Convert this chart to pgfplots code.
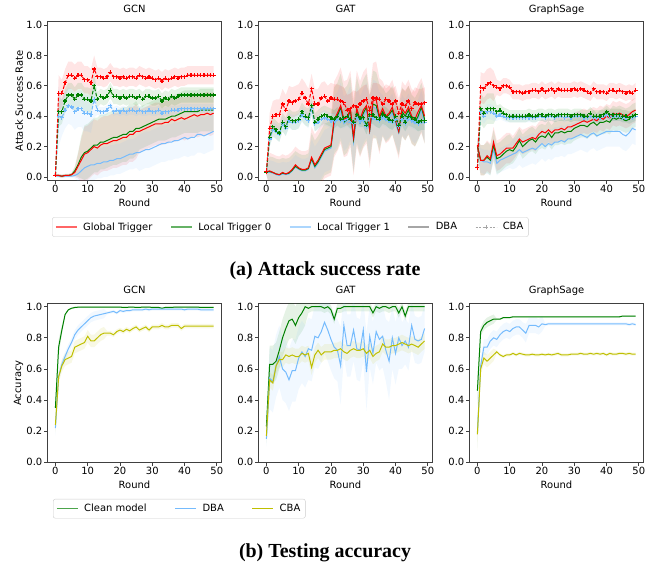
\documentclass[border=0pt]{standalone}
\usepackage{fontspec}
\setmainfont{DejaVu Sans}
\newfontfamily\capfont{Liberation Serif}
\usepackage{pgfplots}
\pgfplotsset{compat=1.18}
\usepackage{pgfplotstable}
\usepgfplotslibrary{fillbetween}

\definecolor{cR}{HTML}{FF0000}
\definecolor{cG}{HTML}{008000}
\definecolor{cB}{HTML}{75BBFD}
\definecolor{cY}{HTML}{BFBF00}
\definecolor{spine}{HTML}{404040}

% attack success rate: d = DBA, c = CBA; g = global, a = local 0, b = local 1; s = std
\pgfplotstableread{
r gd ad bd gc ac bc gds ads bds gcs acs bcs
0 0.01 0.01 0.01 0.01 0.01 0.01 0.01 0.01 0.01 0.01 0.01 0.01
1 0.01 0.01 0.005 0.55 0.43 0.40 0.01 0.01 0.01 0.12 0.10 0.20
2 0.005 0.005 0.005 0.55 0.43 0.39 0.01 0.01 0.01 0.09 0.08 0.12
3 0.01 0.01 0.005 0.62 0.50 0.44 0.01 0.01 0.01 0.09 0.08 0.12
4 0.01 0.01 0.005 0.67 0.54 0.47 0.01 0.01 0.01 0.09 0.08 0.12
5 0.015 0.015 0.005 0.67 0.54 0.46 0.01 0.01 0.01 0.09 0.08 0.12
6 0.03 0.04 0.01 0.65 0.51 0.43 0.03 0.03 0.02 0.09 0.08 0.12
7 0.07 0.08 0.02 0.67 0.54 0.45 0.08 0.08 0.05 0.09 0.08 0.12
8 0.11 0.13 0.04 0.67 0.54 0.45 0.14 0.14 0.08 0.09 0.08 0.12
9 0.15 0.16 0.06 0.64 0.51 0.42 0.18 0.18 0.10 0.09 0.08 0.12
10 0.16 0.17 0.07 0.64 0.51 0.42 0.18 0.18 0.10 0.09 0.08 0.12
11 0.18 0.19 0.08 0.62 0.50 0.41 0.18 0.18 0.10 0.09 0.08 0.12
12 0.20 0.21 0.08 0.71 0.60 0.51 0.18 0.18 0.10 0.09 0.08 0.12
13 0.19 0.21 0.09 0.66 0.51 0.44 0.18 0.18 0.10 0.06 0.05 0.03
14 0.21 0.23 0.09 0.66 0.53 0.43 0.18 0.18 0.10 0.06 0.05 0.03
15 0.22 0.23 0.10 0.65 0.52 0.43 0.18 0.18 0.10 0.06 0.05 0.03
16 0.22 0.24 0.10 0.66 0.53 0.44 0.18 0.18 0.10 0.06 0.05 0.03
17 0.23 0.25 0.11 0.69 0.57 0.47 0.18 0.18 0.10 0.06 0.05 0.03
18 0.24 0.26 0.11 0.66 0.53 0.43 0.18 0.18 0.10 0.06 0.05 0.03
19 0.24 0.26 0.12 0.66 0.53 0.44 0.18 0.18 0.10 0.06 0.05 0.03
20 0.25 0.27 0.12 0.65 0.52 0.43 0.18 0.18 0.10 0.06 0.05 0.03
21 0.26 0.28 0.13 0.66 0.53 0.44 0.18 0.18 0.10 0.06 0.05 0.03
22 0.26 0.28 0.14 0.65 0.52 0.43 0.18 0.18 0.10 0.06 0.05 0.03
23 0.28 0.30 0.15 0.66 0.53 0.44 0.18 0.18 0.10 0.06 0.05 0.03
24 0.28 0.30 0.15 0.66 0.53 0.44 0.18 0.18 0.10 0.06 0.05 0.03
25 0.30 0.32 0.16 0.65 0.52 0.43 0.18 0.18 0.10 0.06 0.05 0.03
26 0.30 0.32 0.16 0.67 0.53 0.44 0.14 0.14 0.12 0.06 0.05 0.03
27 0.31 0.33 0.17 0.66 0.51 0.43 0.14 0.14 0.12 0.06 0.05 0.03
28 0.32 0.34 0.18 0.65 0.53 0.43 0.14 0.14 0.12 0.06 0.05 0.03
29 0.33 0.35 0.18 0.66 0.53 0.44 0.14 0.14 0.12 0.06 0.05 0.03
30 0.34 0.36 0.19 0.65 0.52 0.43 0.14 0.14 0.12 0.06 0.05 0.03
31 0.35 0.37 0.20 0.64 0.52 0.43 0.14 0.14 0.12 0.06 0.05 0.03
32 0.35 0.38 0.21 0.65 0.53 0.44 0.14 0.14 0.12 0.06 0.05 0.03
33 0.35 0.38 0.22 0.63 0.50 0.42 0.14 0.14 0.12 0.06 0.05 0.03
34 0.36 0.38 0.22 0.65 0.52 0.43 0.14 0.14 0.12 0.06 0.05 0.03
35 0.36 0.39 0.23 0.64 0.51 0.43 0.14 0.14 0.12 0.06 0.05 0.03
36 0.38 0.40 0.23 0.65 0.53 0.44 0.14 0.14 0.12 0.06 0.05 0.03
37 0.37 0.40 0.24 0.66 0.52 0.44 0.14 0.14 0.12 0.06 0.05 0.03
38 0.38 0.41 0.24 0.65 0.53 0.44 0.14 0.14 0.12 0.06 0.05 0.03
39 0.39 0.42 0.25 0.66 0.54 0.45 0.14 0.14 0.12 0.06 0.05 0.03
40 0.38 0.43 0.26 0.66 0.54 0.45 0.14 0.14 0.12 0.06 0.05 0.03
41 0.39 0.43 0.25 0.67 0.54 0.45 0.14 0.14 0.12 0.06 0.05 0.03
42 0.40 0.43 0.26 0.67 0.54 0.45 0.14 0.14 0.12 0.06 0.05 0.03
43 0.41 0.43 0.26 0.67 0.54 0.45 0.14 0.14 0.12 0.06 0.05 0.03
44 0.40 0.43 0.28 0.67 0.54 0.45 0.14 0.14 0.12 0.06 0.05 0.03
45 0.41 0.44 0.28 0.67 0.54 0.45 0.14 0.14 0.12 0.06 0.05 0.03
46 0.41 0.44 0.27 0.67 0.54 0.45 0.14 0.14 0.12 0.06 0.05 0.03
47 0.42 0.44 0.28 0.67 0.54 0.45 0.14 0.14 0.12 0.06 0.05 0.03
48 0.41 0.44 0.29 0.67 0.54 0.45 0.14 0.14 0.12 0.06 0.05 0.03
49 0.42 0.44 0.30 0.67 0.54 0.45 0.14 0.14 0.12 0.06 0.05 0.03
}\gcnA

\pgfplotstableread{
r gd ad bd gc ac bc gds ads bds gcs acs bcs
0 0.035 0.035 0.03 0.035 0.03 0.03 0.02 0.02 0.02 0.02 0.02 0.02
1 0.04 0.035 0.03 0.32 0.26 0.25 0.12 0.10 0.08 0.10 0.06 0.05
2 0.03 0.03 0.025 0.40 0.33 0.31 0.12 0.10 0.08 0.10 0.06 0.05
3 0.02 0.02 0.015 0.41 0.31 0.30 0.12 0.10 0.08 0.10 0.06 0.05
4 0.015 0.015 0.01 0.41 0.29 0.28 0.12 0.10 0.08 0.10 0.06 0.05
5 0.03 0.025 0.02 0.48 0.36 0.35 0.12 0.10 0.08 0.10 0.06 0.05
6 0.02 0.02 0.015 0.44 0.33 0.32 0.12 0.10 0.08 0.10 0.06 0.05
7 0.03 0.025 0.02 0.50 0.39 0.37 0.12 0.10 0.08 0.10 0.06 0.05
8 0.05 0.045 0.04 0.49 0.37 0.36 0.12 0.10 0.08 0.10 0.06 0.05
9 0.08 0.07 0.065 0.50 0.37 0.36 0.12 0.10 0.08 0.10 0.06 0.05
10 0.06 0.055 0.05 0.51 0.38 0.37 0.12 0.10 0.08 0.10 0.06 0.05
11 0.05 0.045 0.04 0.55 0.43 0.41 0.12 0.10 0.08 0.10 0.06 0.05
12 0.05 0.045 0.04 0.52 0.40 0.39 0.12 0.10 0.08 0.10 0.06 0.05
13 0.06 0.055 0.05 0.48 0.39 0.37 0.12 0.10 0.08 0.10 0.06 0.05
14 0.13 0.12 0.11 0.58 0.47 0.45 0.20 0.17 0.14 0.10 0.06 0.05
15 0.08 0.07 0.06 0.48 0.36 0.35 0.20 0.17 0.14 0.10 0.06 0.05
16 0.11 0.10 0.09 0.48 0.38 0.36 0.20 0.17 0.14 0.10 0.06 0.05
17 0.15 0.14 0.13 0.52 0.40 0.38 0.20 0.17 0.14 0.10 0.06 0.05
18 0.19 0.18 0.17 0.53 0.41 0.39 0.20 0.17 0.14 0.10 0.06 0.05
19 0.20 0.19 0.18 0.50 0.40 0.38 0.20 0.17 0.14 0.10 0.06 0.05
20 0.21 0.20 0.19 0.52 0.39 0.37 0.20 0.17 0.14 0.10 0.06 0.05
21 0.38 0.37 0.35 0.51 0.38 0.37 0.25 0.22 0.18 0.10 0.06 0.05
22 0.42 0.40 0.38 0.51 0.40 0.38 0.25 0.22 0.18 0.10 0.06 0.05
23 0.47 0.46 0.44 0.50 0.38 0.37 0.25 0.22 0.18 0.10 0.06 0.05
24 0.38 0.36 0.35 0.49 0.39 0.37 0.25 0.22 0.18 0.10 0.06 0.05
25 0.39 0.38 0.37 0.44 0.40 0.38 0.25 0.22 0.18 0.10 0.06 0.05
26 0.45 0.44 0.42 0.45 0.38 0.36 0.25 0.22 0.18 0.10 0.06 0.05
27 0.26 0.25 0.23 0.47 0.36 0.35 0.25 0.22 0.18 0.10 0.06 0.05
28 0.45 0.44 0.42 0.46 0.41 0.39 0.25 0.22 0.18 0.10 0.06 0.05
29 0.38 0.36 0.35 0.48 0.39 0.37 0.25 0.22 0.18 0.10 0.06 0.05
30 0.44 0.42 0.40 0.50 0.39 0.37 0.25 0.22 0.18 0.10 0.06 0.05
31 0.47 0.46 0.44 0.51 0.34 0.33 0.25 0.22 0.18 0.10 0.06 0.05
32 0.31 0.31 0.30 0.44 0.41 0.39 0.25 0.22 0.18 0.10 0.06 0.05
33 0.50 0.48 0.46 0.52 0.41 0.39 0.25 0.22 0.18 0.10 0.06 0.05
34 0.51 0.47 0.45 0.52 0.39 0.38 0.25 0.22 0.18 0.10 0.06 0.05
35 0.40 0.39 0.38 0.51 0.38 0.37 0.25 0.22 0.18 0.10 0.06 0.05
36 0.45 0.43 0.41 0.48 0.41 0.39 0.18 0.16 0.13 0.10 0.06 0.05
37 0.40 0.39 0.37 0.51 0.40 0.38 0.18 0.16 0.13 0.10 0.06 0.05
38 0.42 0.41 0.39 0.50 0.38 0.37 0.18 0.16 0.13 0.10 0.06 0.05
39 0.46 0.44 0.42 0.48 0.37 0.36 0.18 0.16 0.13 0.10 0.06 0.05
40 0.38 0.37 0.35 0.50 0.40 0.38 0.18 0.16 0.13 0.10 0.06 0.05
41 0.30 0.30 0.29 0.42 0.34 0.33 0.18 0.16 0.13 0.10 0.06 0.05
42 0.45 0.43 0.41 0.48 0.40 0.38 0.18 0.16 0.13 0.10 0.06 0.05
43 0.42 0.40 0.38 0.47 0.36 0.35 0.18 0.16 0.13 0.10 0.06 0.05
44 0.46 0.44 0.42 0.50 0.40 0.38 0.18 0.16 0.13 0.10 0.06 0.05
45 0.40 0.38 0.37 0.45 0.39 0.37 0.18 0.16 0.13 0.10 0.06 0.05
46 0.38 0.36 0.35 0.49 0.38 0.36 0.18 0.16 0.13 0.10 0.06 0.05
47 0.43 0.40 0.38 0.48 0.36 0.35 0.18 0.16 0.13 0.10 0.06 0.05
48 0.47 0.46 0.44 0.48 0.37 0.36 0.18 0.16 0.13 0.10 0.06 0.05
49 0.40 0.38 0.36 0.49 0.37 0.36 0.18 0.16 0.13 0.10 0.06 0.05
}\gatA

\pgfplotstableread{
r gd ad bd gc ac bc gds ads bds gcs acs bcs
0 0.21 0.20 0.20 0.06 0.06 0.06 0.05 0.05 0.05 0.02 0.02 0.02
1 0.11 0.11 0.11 0.59 0.45 0.43 0.10 0.10 0.08 0.10 0.10 0.05
2 0.11 0.11 0.10 0.58 0.42 0.40 0.10 0.10 0.08 0.10 0.10 0.05
3 0.14 0.13 0.10 0.61 0.45 0.43 0.10 0.10 0.08 0.10 0.10 0.05
4 0.12 0.11 0.09 0.62 0.45 0.43 0.10 0.10 0.08 0.10 0.10 0.05
5 0.23 0.21 0.18 0.60 0.45 0.42 0.10 0.10 0.08 0.10 0.10 0.05
6 0.14 0.12 0.09 0.59 0.43 0.40 0.10 0.10 0.08 0.05 0.04 0.03
7 0.15 0.13 0.11 0.58 0.44 0.41 0.10 0.10 0.08 0.05 0.04 0.03
8 0.17 0.15 0.12 0.60 0.42 0.40 0.10 0.10 0.08 0.05 0.04 0.03
9 0.19 0.17 0.13 0.60 0.41 0.39 0.10 0.10 0.08 0.05 0.04 0.03
10 0.19 0.18 0.14 0.59 0.40 0.39 0.10 0.10 0.08 0.05 0.04 0.03
11 0.19 0.17 0.15 0.56 0.40 0.39 0.08 0.08 0.10 0.05 0.04 0.03
12 0.22 0.20 0.16 0.56 0.40 0.39 0.08 0.08 0.10 0.05 0.04 0.03
13 0.25 0.24 0.18 0.56 0.40 0.39 0.08 0.08 0.10 0.05 0.04 0.03
14 0.23 0.20 0.16 0.55 0.40 0.39 0.08 0.08 0.10 0.05 0.04 0.03
15 0.24 0.22 0.17 0.56 0.40 0.39 0.08 0.08 0.10 0.05 0.04 0.03
16 0.25 0.24 0.18 0.56 0.41 0.39 0.08 0.08 0.10 0.05 0.04 0.03
17 0.26 0.25 0.19 0.57 0.40 0.39 0.08 0.08 0.10 0.05 0.04 0.03
18 0.25 0.23 0.18 0.57 0.40 0.39 0.08 0.08 0.10 0.05 0.04 0.03
19 0.28 0.26 0.20 0.56 0.41 0.40 0.08 0.08 0.10 0.05 0.04 0.03
20 0.30 0.27 0.22 0.58 0.41 0.40 0.08 0.08 0.10 0.05 0.04 0.03
21 0.29 0.26 0.20 0.56 0.40 0.39 0.08 0.08 0.10 0.05 0.04 0.03
22 0.31 0.29 0.22 0.57 0.41 0.40 0.08 0.08 0.10 0.05 0.04 0.03
23 0.29 0.26 0.21 0.58 0.41 0.40 0.08 0.08 0.10 0.05 0.04 0.03
24 0.31 0.29 0.23 0.56 0.40 0.39 0.08 0.08 0.10 0.05 0.04 0.03
25 0.31 0.29 0.23 0.58 0.41 0.40 0.08 0.08 0.10 0.05 0.04 0.03
26 0.32 0.30 0.24 0.57 0.41 0.40 0.08 0.08 0.10 0.05 0.04 0.03
27 0.31 0.29 0.23 0.57 0.41 0.39 0.08 0.08 0.10 0.05 0.04 0.03
28 0.33 0.30 0.25 0.57 0.41 0.40 0.08 0.08 0.10 0.05 0.04 0.03
29 0.33 0.30 0.25 0.57 0.40 0.39 0.08 0.08 0.10 0.05 0.04 0.03
30 0.34 0.32 0.26 0.58 0.41 0.40 0.08 0.08 0.10 0.05 0.04 0.03
31 0.35 0.33 0.27 0.57 0.41 0.40 0.08 0.08 0.10 0.05 0.04 0.03
32 0.36 0.34 0.28 0.58 0.41 0.40 0.08 0.08 0.10 0.05 0.04 0.03
33 0.37 0.34 0.27 0.57 0.40 0.39 0.08 0.08 0.10 0.05 0.04 0.03
34 0.36 0.33 0.26 0.56 0.40 0.39 0.08 0.08 0.10 0.05 0.04 0.03
35 0.37 0.35 0.28 0.55 0.42 0.40 0.08 0.08 0.10 0.05 0.04 0.03
36 0.38 0.36 0.29 0.58 0.40 0.39 0.08 0.08 0.10 0.05 0.04 0.03
37 0.37 0.34 0.27 0.56 0.40 0.39 0.08 0.08 0.10 0.05 0.04 0.03
38 0.39 0.36 0.28 0.56 0.40 0.39 0.08 0.08 0.10 0.05 0.04 0.03
39 0.38 0.36 0.29 0.56 0.41 0.40 0.08 0.08 0.10 0.05 0.04 0.03
40 0.40 0.37 0.30 0.55 0.43 0.41 0.08 0.08 0.10 0.05 0.04 0.03
41 0.39 0.36 0.30 0.57 0.41 0.40 0.08 0.08 0.10 0.05 0.04 0.03
42 0.42 0.39 0.30 0.57 0.41 0.40 0.08 0.08 0.10 0.05 0.04 0.03
43 0.41 0.38 0.30 0.56 0.41 0.40 0.08 0.08 0.10 0.05 0.04 0.03
44 0.42 0.39 0.30 0.57 0.41 0.40 0.08 0.08 0.10 0.05 0.04 0.03
45 0.41 0.38 0.28 0.56 0.40 0.39 0.08 0.08 0.10 0.05 0.04 0.03
46 0.40 0.37 0.27 0.55 0.40 0.39 0.08 0.08 0.10 0.05 0.04 0.03
47 0.41 0.38 0.29 0.56 0.39 0.39 0.08 0.08 0.10 0.05 0.04 0.03
48 0.43 0.40 0.32 0.55 0.40 0.39 0.08 0.08 0.10 0.05 0.04 0.03
49 0.44 0.41 0.31 0.57 0.41 0.40 0.08 0.08 0.10 0.05 0.04 0.03
}\sageA

% testing accuracy: cl = clean model, db = DBA, cb = CBA; s = std
\pgfplotstableread{
r cl db cb cls dbs cbs
0 0.35 0.22 0.24 0.05 0.05 0.05
1 0.74 0.55 0.55 0.05 0.03 0.04
2 0.85 0.63 0.62 0.03 0.03 0.04
3 0.95 0.68 0.66 0.005 0.03 0.04
4 0.98 0.73 0.67 0.005 0.03 0.04
5 0.99 0.77 0.68 0.005 0.03 0.04
6 0.995 0.82 0.74 0.005 0.03 0.04
7 0.997 0.85 0.75 0.005 0.03 0.04
8 0.998 0.87 0.76 0.005 0.03 0.04
9 0.998 0.89 0.77 0.005 0.03 0.04
10 0.998 0.91 0.81 0.005 0.03 0.04
11 0.998 0.93 0.78 0.005 0.03 0.04
12 0.998 0.94 0.78 0.005 0.03 0.04
13 0.998 0.945 0.80 0.005 0.03 0.04
14 0.998 0.95 0.82 0.005 0.03 0.04
15 0.998 0.955 0.83 0.005 0.03 0.04
16 0.998 0.96 0.83 0.005 0.01 0.015
17 0.998 0.965 0.83 0.005 0.01 0.015
18 0.998 0.97 0.82 0.005 0.01 0.015
19 0.998 0.96 0.84 0.005 0.01 0.015
20 0.998 0.975 0.85 0.005 0.01 0.015
21 0.995 0.97 0.84 0.005 0.01 0.015
22 0.995 0.975 0.855 0.005 0.01 0.015
23 0.998 0.975 0.845 0.005 0.01 0.015
24 0.998 0.98 0.86 0.005 0.01 0.015
25 0.995 0.98 0.87 0.005 0.01 0.015
26 0.995 0.98 0.85 0.005 0.01 0.015
27 0.998 0.98 0.86 0.005 0.01 0.015
28 0.998 0.985 0.87 0.005 0.01 0.015
29 0.998 0.98 0.85 0.005 0.01 0.015
30 0.995 0.985 0.87 0.005 0.01 0.015
31 0.995 0.985 0.87 0.005 0.01 0.015
32 0.995 0.985 0.87 0.005 0.01 0.015
33 0.99 0.985 0.88 0.005 0.01 0.015
34 0.995 0.985 0.87 0.005 0.01 0.015
35 0.995 0.985 0.87 0.005 0.01 0.015
36 0.995 0.985 0.88 0.005 0.01 0.015
37 0.998 0.985 0.88 0.005 0.01 0.015
38 0.998 0.985 0.88 0.005 0.01 0.015
39 0.998 0.985 0.86 0.005 0.01 0.015
40 0.998 0.98 0.875 0.005 0.01 0.015
41 0.998 0.985 0.875 0.005 0.01 0.015
42 0.998 0.985 0.875 0.005 0.01 0.015
43 0.998 0.985 0.875 0.005 0.01 0.015
44 0.998 0.985 0.875 0.005 0.01 0.015
45 0.995 0.98 0.875 0.005 0.01 0.015
46 0.995 0.98 0.875 0.005 0.01 0.015
47 0.995 0.98 0.875 0.005 0.01 0.015
48 0.995 0.98 0.875 0.005 0.01 0.015
49 0.995 0.98 0.875 0.005 0.01 0.015
}\gcnB

\pgfplotstableread{
r cl db cb cls dbs cbs
0 0.23 0.15 0.17 0.05 0.05 0.05
1 0.63 0.54 0.53 0.12 0.20 0.05
2 0.63 0.52 0.51 0.12 0.20 0.05
3 0.65 0.62 0.62 0.12 0.20 0.05
4 0.72 0.68 0.66 0.12 0.20 0.05
5 0.80 0.60 0.66 0.12 0.20 0.05
6 0.86 0.58 0.69 0.12 0.20 0.05
7 0.91 0.53 0.68 0.12 0.20 0.05
8 0.92 0.59 0.69 0.12 0.20 0.05
9 0.88 0.59 0.68 0.12 0.20 0.05
10 0.93 0.67 0.68 0.12 0.20 0.05
11 0.96 0.71 0.70 0.12 0.20 0.05
12 1.0 0.68 0.69 0.12 0.20 0.05
13 0.99 0.73 0.70 0.03 0.20 0.05
14 1.0 0.72 0.61 0.03 0.20 0.05
15 1.0 0.81 0.69 0.03 0.20 0.05
16 1.0 0.80 0.72 0.03 0.20 0.05
17 1.0 0.84 0.69 0.03 0.20 0.05
18 0.99 0.90 0.71 0.03 0.20 0.05
19 1.0 0.85 0.71 0.03 0.20 0.05
20 0.98 0.79 0.71 0.03 0.20 0.05
21 0.92 0.74 0.72 0.03 0.20 0.05
22 0.99 0.72 0.72 0.03 0.20 0.05
23 0.99 0.62 0.73 0.03 0.25 0.05
24 1.0 0.88 0.71 0.03 0.20 0.05
25 1.0 0.75 0.70 0.03 0.20 0.05
26 1.0 0.75 0.72 0.03 0.20 0.05
27 1.0 0.85 0.73 0.03 0.20 0.05
28 1.0 0.73 0.72 0.03 0.20 0.05
29 1.0 0.72 0.72 0.03 0.20 0.05
30 1.0 0.85 0.73 0.03 0.20 0.05
31 1.0 0.58 0.70 0.03 0.25 0.05
32 1.0 0.81 0.72 0.03 0.20 0.05
33 0.96 0.70 0.68 0.03 0.20 0.05
34 1.0 0.84 0.70 0.03 0.20 0.05
35 0.99 0.79 0.71 0.03 0.20 0.05
36 1.0 0.81 0.76 0.03 0.20 0.05
37 1.0 0.72 0.74 0.03 0.20 0.05
38 0.99 0.65 0.74 0.03 0.25 0.05
39 1.0 0.80 0.75 0.03 0.20 0.05
40 1.0 0.70 0.75 0.03 0.20 0.05
41 0.96 0.80 0.76 0.03 0.20 0.05
42 1.0 0.75 0.77 0.03 0.15 0.05
43 0.94 0.78 0.76 0.03 0.15 0.05
44 1.0 0.74 0.75 0.03 0.15 0.05
45 1.0 0.88 0.76 0.03 0.15 0.05
46 1.0 0.79 0.75 0.03 0.15 0.05
47 1.0 0.78 0.74 0.03 0.15 0.05
48 1.0 0.79 0.76 0.03 0.15 0.05
49 1.0 0.86 0.78 0.03 0.15 0.05
}\gatB

\pgfplotstableread{
r cl db cb cls dbs cbs
0 0.46 0.19 0.18 0.10 0.10 0.10
1 0.84 0.62 0.60 0.03 0.05 0.04
2 0.88 0.74 0.67 0.03 0.05 0.04
3 0.90 0.74 0.65 0.03 0.05 0.04
4 0.91 0.78 0.67 0.03 0.05 0.04
5 0.92 0.80 0.69 0.03 0.05 0.04
6 0.92 0.79 0.71 0.005 0.05 0.01
7 0.92 0.82 0.69 0.005 0.05 0.01
8 0.93 0.84 0.68 0.005 0.05 0.01
9 0.93 0.85 0.69 0.005 0.05 0.01
10 0.93 0.84 0.69 0.005 0.05 0.01
11 0.935 0.86 0.70 0.005 0.05 0.01
12 0.935 0.87 0.69 0.005 0.05 0.01
13 0.935 0.87 0.70 0.005 0.05 0.01
14 0.935 0.85 0.695 0.005 0.05 0.01
15 0.935 0.83 0.69 0.005 0.06 0.01
16 0.935 0.88 0.69 0.005 0.05 0.01
17 0.935 0.88 0.695 0.005 0.05 0.01
18 0.935 0.88 0.69 0.005 0.05 0.01
19 0.935 0.87 0.69 0.005 0.05 0.01
20 0.935 0.89 0.695 0.005 0.05 0.01
21 0.935 0.885 0.69 0.005 0.01 0.01
22 0.935 0.89 0.695 0.005 0.01 0.01
23 0.935 0.89 0.69 0.005 0.01 0.01
24 0.935 0.89 0.695 0.005 0.01 0.01
25 0.935 0.89 0.70 0.005 0.01 0.01
26 0.935 0.89 0.69 0.005 0.01 0.01
27 0.935 0.89 0.69 0.005 0.01 0.01
28 0.935 0.89 0.69 0.005 0.01 0.01
29 0.935 0.89 0.695 0.005 0.01 0.01
30 0.935 0.89 0.695 0.005 0.01 0.01
31 0.935 0.89 0.695 0.005 0.01 0.01
32 0.935 0.89 0.70 0.005 0.01 0.01
33 0.935 0.89 0.695 0.005 0.01 0.01
34 0.935 0.89 0.695 0.005 0.01 0.01
35 0.935 0.89 0.70 0.005 0.01 0.01
36 0.935 0.89 0.695 0.005 0.01 0.01
37 0.935 0.89 0.70 0.005 0.01 0.01
38 0.935 0.89 0.695 0.005 0.01 0.01
39 0.935 0.89 0.70 0.005 0.01 0.01
40 0.935 0.89 0.69 0.005 0.01 0.01
41 0.935 0.89 0.70 0.005 0.01 0.01
42 0.935 0.89 0.695 0.005 0.01 0.01
43 0.935 0.89 0.695 0.005 0.01 0.01
44 0.935 0.89 0.70 0.005 0.01 0.01
45 0.94 0.89 0.70 0.005 0.01 0.01
46 0.94 0.89 0.695 0.005 0.01 0.01
47 0.94 0.885 0.70 0.005 0.01 0.01
48 0.94 0.89 0.695 0.005 0.01 0.01
49 0.94 0.885 0.695 0.005 0.01 0.01
}\sageB

\newcommand\band[4]{%
  \addplot[draw=none,forget plot,name path=U#2] table[x=r,y expr=\thisrow{#2}+\thisrow{#3}]{#1};
  \addplot[draw=none,forget plot,name path=L#2] table[x=r,y expr=\thisrow{#2}-\thisrow{#3}]{#1};
  \addplot[fill=#4,fill opacity=0.1,draw=none,forget plot] fill between[of=U#2 and L#2];
}
\newcommand\meanline[3]{\addplot[#3,line width=1bp,forget plot] table[x=r,y=#2]{#1};}
\newcommand\cbaline[3]{\addplot[#3,line width=1bp,dash pattern=on 3.7bp off 1.6bp,mark=+,mark size=2bp,mark options={solid,line width=1.2bp},forget plot] table[x=r,y=#2]{#1};}

\newcommand\asrplots[1]{%
  \band{#1}{gd}{gds}{cR}\band{#1}{ad}{ads}{cG}\band{#1}{bd}{bds}{cB}%
  \band{#1}{gc}{gcs}{cR}\band{#1}{ac}{acs}{cG}\band{#1}{bc}{bcs}{cB}%
  \meanline{#1}{bd}{cB}\meanline{#1}{ad}{cG}\meanline{#1}{gd}{cR}%
  \cbaline{#1}{bc}{cB}\cbaline{#1}{ac}{cG}\cbaline{#1}{gc}{cR}%
}
\newcommand\accplots[1]{%
  \band{#1}{cl}{cls}{cG}\band{#1}{db}{dbs}{cB}\band{#1}{cb}{cbs}{cY}%
  \meanline{#1}{cl}{cG}\meanline{#1}{db}{cB}\meanline{#1}{cb}{cY}%
}

\pgfplotsset{
  legend image code/.code={\draw[mark repeat=2,mark phase=2,#1] plot coordinates {(0bp,0bp) (10.5bp,0bp) (21bp,0bp)};},
  base/.style={
    scale only axis, width=174bp,
    xmin=-2.45, xmax=51.45,
    xtick={0,10,20,30,40,50},
    ytick={0,0.2,0.4,0.6,0.8,1.0},
    yticklabel style={/pgf/number format/.cd,fixed,fixed zerofill,precision=1},
    /pgf/number format/assume math mode=true,
    tick align=outside, major tick length=3.5bp,
    xtick pos=left, ytick pos=left,
    tick style={spine, line width=0.8bp},
    axis line style={spine, line width=1bp},
    every tick label/.append style={font=\fontsize{10}{12}\selectfont, inner sep=1.5bp},
    title style={at={(axis description cs:0.5,1)}, anchor=base, yshift=4bp, font=\fontsize{10}{12}\selectfont, inner sep=0pt},
    xlabel style={at={(axis description cs:0.5,0)}, anchor=base, yshift=-26bp, font=\fontsize{10}{12}\selectfont, inner sep=0pt},
    ylabel style={at={(axis description cs:-0.139,0.5)}, anchor=south, font=\fontsize{10}{12}\selectfont, inner sep=0pt},
    xlabel={Round},
  },
  toprow/.style={base, height=158bp, ymin=-0.02, ymax=1.02},
  botrow/.style={base, height=158.7bp, ymin=0, ymax=1.02},
}

\begin{document}
\begin{tikzpicture}

% ---------- (a) attack success rate ----------
\begin{axis}[toprow, at={(47.5bp,-180bp)}, anchor=south west, title={GCN}, ylabel={Attack Success Rate},
  legend columns=5,
  legend style={at={(axis description cs:0.026,-0.236)}, anchor=north west, draw=black!20, rounded corners=2bp,
    font=\fontsize{10}{12}\selectfont, inner xsep=3bp, inner ysep=3bp,
    /tikz/every odd column/.append style={column sep=3.7bp},
    /tikz/every even column/.append style={column sep=16bp}}]
\addlegendimage{cR, opacity=0.6, line width=1.2bp}\addlegendentry{Global Trigger}
\addlegendimage{cG, opacity=0.6, line width=1.2bp}\addlegendentry{Local Trigger 0}
\addlegendimage{cB, opacity=0.6, line width=1.2bp}\addlegendentry{Local Trigger 1}
\addlegendimage{black!35, line width=1.2bp}\addlegendentry{DBA}
\addlegendimage{black!35, line width=1bp, dash pattern=on 2bp off 1.5bp, mark=+, mark size=2bp, mark options={solid}}\addlegendentry{CBA}
\asrplots{\gcnA}
\end{axis}

\begin{axis}[toprow, at={(258.5bp,-180bp)}, anchor=south west, title={GAT}]
\asrplots{\gatA}
\end{axis}

\begin{axis}[toprow, at={(469.5bp,-180bp)}, anchor=south west, title={GraphSage}]
\asrplots{\sageA}
\end{axis}

\node[font=\capfont\bfseries\fontsize{20}{24}\selectfont, anchor=base] at (325bp,-275bp) {(a) Attack success rate};

% ---------- (b) testing accuracy ----------
\begin{axis}[botrow, at={(47.5bp,-462.3bp)}, anchor=south west, title={GCN}, ylabel={Accuracy},
  legend columns=3,
  legend style={at={(axis description cs:0.032,-0.231)}, anchor=north west, draw=black!20, rounded corners=2bp,
    font=\fontsize{10}{12}\selectfont, inner xsep=3bp, inner ysep=3bp,
    /tikz/every odd column/.append style={column sep=3.7bp},
    /tikz/every even column/.append style={column sep=26bp}}]
\addlegendimage{cG, opacity=0.7, line width=1.2bp}\addlegendentry{Clean model}
\addlegendimage{cB, line width=1.2bp}\addlegendentry{DBA}
\addlegendimage{cY, line width=1.2bp}\addlegendentry{CBA}
\accplots{\gcnB}
\end{axis}

\begin{axis}[botrow, at={(258.5bp,-462.3bp)}, anchor=south west, title={GAT}]
\accplots{\gatB}
\end{axis}

\begin{axis}[botrow, at={(469.5bp,-462.3bp)}, anchor=south west, title={GraphSage}]
\accplots{\sageB}
\end{axis}

\node[font=\capfont\bfseries\fontsize{20}{24}\selectfont, anchor=base] at (325bp,-557bp) {(b) Testing accuracy};

\pgfresetboundingbox
\useasboundingbox (0,0) rectangle (647bp,-567bp);
\end{tikzpicture}
\end{document}
